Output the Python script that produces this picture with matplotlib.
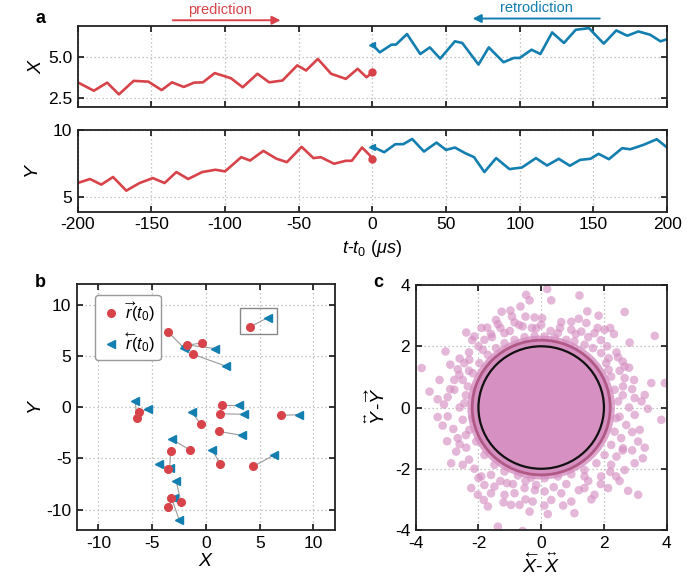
import numpy as np
import matplotlib
matplotlib.use('Agg')
import matplotlib.pyplot as plt
from matplotlib.patches import Circle, Rectangle, FancyArrowPatch
from matplotlib.lines import Line2D

plt.rcParams['font.family'] = ['Liberation Sans', 'DejaVu Sans']
plt.rcParams['mathtext.fontset'] = 'custom'
plt.rcParams['mathtext.rm'] = 'Liberation Sans'
plt.rcParams['mathtext.it'] = 'Liberation Sans:italic'
plt.rcParams['mathtext.bf'] = 'Liberation Sans:bold'
plt.rcParams['axes.unicode_minus'] = False

RED = '#d8434a'
BLUE = '#137eb0'
PINK = '#d690c2'
GRID = '#b4b4b4'

# ---- panel a: X quadrature, prediction (t <= 0) and retrodiction (t >= 0)
t_xp = [-200, -189, -180, -172, -162, -152, -143, -136, -128, -121, -115, -107,
        -96, -88, -78, -70, -61, -51, -45, -37, -28, -18, -10, -4, 0]
x_pred = [3.48, 2.97, 3.46, 2.75, 3.57, 3.52, 3.01, 3.48, 3.20, 3.46, 3.48, 4.04,
          3.73, 3.18, 4.00, 3.48, 3.59, 4.51, 4.20, 4.90, 4.00, 3.69, 4.30, 3.79, 4.08]
t_xr = [0, 5, 13, 16, 23.5, 32.5, 39, 46, 56, 61, 72, 79, 89, 96, 100, 108, 114,
        122, 130, 138, 147, 157, 165.5, 173, 180.5, 188.5, 195.5, 200]
x_retro = [5.77, 5.30, 5.77, 5.77, 6.41, 5.20, 5.60, 4.92, 5.97, 5.87, 4.56, 5.60,
           4.70, 4.96, 4.96, 5.46, 5.20, 6.51, 5.87, 6.67, 6.77, 5.83, 6.63, 6.31,
           6.57, 6.37, 5.97, 6.10]

# ---- panel a: Y quadrature
t_yp = [-200, -191.6, -184, -176, -167, -158, -149, -141, -133, -125, -115.5,
        -106.5, -100, -89, -83, -74, -65, -58, -48, -40, -35, -26, -18, -14, -7, -2, 0]
y_pred = [6.04, 6.34, 5.92, 6.49, 5.47, 6.04, 6.41, 6.04, 6.86, 6.34, 6.86, 7.03,
          6.91, 7.97, 7.72, 8.44, 7.85, 7.60, 8.74, 7.90, 7.97, 7.48, 7.70, 7.70,
          8.69, 8.14, 7.82]
t_yr = [0, 8, 15.6, 21, 27, 35, 43.5, 50, 56, 63, 69, 76, 84, 93, 101.5, 111,
        118.5, 126.5, 134, 141, 148, 153.5, 160.5, 169.5, 175, 184, 193, 200]
y_retro = [8.76, 8.34, 8.94, 8.94, 9.33, 8.39, 9.06, 8.51, 8.69, 8.27, 7.97, 6.86,
           7.90, 7.08, 7.20, 7.90, 7.35, 7.85, 7.33, 7.77, 7.85, 8.22, 7.82, 8.64,
           8.56, 8.89, 9.31, 8.69]

# ---- panel b: predicted (red) and retrodicted (blue) positions at t0
pred_x = [-3.56, -1.78, -0.38, -1.22, 4.09, 1.47, 1.34, 7.00, -0.47, 1.22,
          -1.47, 1.31, 4.41, -3.50, -3.28, -2.34, -3.22, -3.56, -6.19, -6.45]
pred_y = [7.36, 6.06, 6.25, 5.15, 7.82, 0.20, -0.65, -0.81, -1.69, -2.38,
          -4.20, -5.54, -5.80, -6.06, -4.30, -9.25, -8.86, -9.74, -0.46, -1.08]
retro_x = [-2.09, 0.88, -1.95, 1.88, 5.78, 3.09, 3.56, 8.68, -1.34, 3.34,
           -3.16, 0.59, 6.31, -4.38, -3.38, -2.78, -2.50, -3.00, -5.40, -6.57]
retro_y = [5.80, 5.70, 6.00, 3.97, 8.73, 0.20, -0.72, -0.75, -0.49, -2.77,
           -3.16, -4.20, -4.69, -5.54, -5.93, -7.17, -10.98, -8.90, -0.23, 0.55]
box_x = [3.19, 6.60]
box_y = [7.11, 9.66]

# ---- panel c: scatter of the outer cloud (core is saturated)
cloud_x = [0.19, -0.48, -0.37, 1.22, 0.32, -0.66, 1.47, 2.66, -1.26, -0.98, -0.93, 1.83,
           -0.50, -0.21, 0.03, 0.64, 0.96, -1.38, -0.85, -1.72, -2.39, -2.13, -1.57, 2.32,
           1.70, 1.28, 3.62, 2.82, -3.05, -3.81, -3.24, -3.56, -2.98, -3.30, -2.66, -2.29,
           -2.77, 2.15, 2.45, 2.66, 2.96, 3.51, 3.94, 3.30, 2.98, 2.15, -1.86, -1.17, 0.53,
           2.02, 2.61,
           -3.30, -2.98, -3.14, -2.66, -2.39, -2.87, -2.50, -2.13, -1.91, -2.23, -2.02, -1.83,
           -1.49, -1.17, -0.96, -0.69, -0.37, 0.21, 1.06, -1.38, -0.59, -0.27, 0.64, 0.96,
           1.38, 1.70, 2.13, 2.39, 2.77, 3.09, 2.98, 2.66, 3.24, 3.09, 3.30, 3.83, 3.40,
           2.98, 3.14, 2.61, 1.38, 0.32, -1.70, -1.09, -0.16,
           -2.45, -2.61, -2.34, -2.18, -1.97, -1.70, -1.44, -1.17, -0.85, -0.53, -0.21, 0.11,
           0.43, 0.80, 1.06, 1.38, 1.65, 1.91, 2.07, 2.23, 2.34, 2.45, 2.66, -2.07, -2.45,
           -2.77, -1.81, -0.59, -0.16, 0.96, 1.44, -1.44,
           -2.18, -2.29, -2.07, -1.81, -1.49, -1.17, -0.74, -0.32, 0.11, 0.53, 0.96, 1.38,
           1.76, 2.02, 2.23, 2.34, 2.39, 2.71, 2.55, -0.53, 0.11, -0.85, -2.71, -1.81, 1.91,
           2.23]
cloud_y = [3.87, 3.68, 3.50, 3.66, 3.50, 3.30, 3.14, 3.12, 3.13, 3.17, 2.97, 3.00,
           2.97, 2.94, 2.92, 2.79, 2.80, 2.72, 2.78, 2.61, 2.45, 2.32, 2.30, 2.40,
           2.43, 2.48, 2.34, 2.12, 1.83, 1.29, 0.90, 0.52, 0.34, 0.27, 1.25, 1.56,
           0.90, 1.61, 1.64, 0.96, 0.90, 0.80, 0.80, 0.41, 0.31, 1.23, 1.88, 2.43, 2.43,
           2.54, 0.69,
           -0.31, -0.29, -0.59, -1.00, -1.31, -1.82, -1.87, -2.00, -2.25, -2.63, -2.85, -3.02,
           -2.58, -2.85, -3.18, -3.18, -3.40, -3.48, -3.45, -3.89, -4.03, -3.07, -2.80, -3.07,
           -2.63, -2.85, -2.63, -2.25, -2.72, -2.85, -1.82, -2.04, -1.66, -1.11, -1.31, -0.40,
           -0.04, -0.24, -0.73, -1.33, -2.25, -3.02, -3.23, -2.47, -2.53,
           1.45, 1.07, 0.69, 1.12, 1.45, 1.72, 1.94, 2.10, 2.21, 2.30, 2.34, 2.32,
           2.27, 2.21, 2.16, 2.05, 1.94, 1.78, 1.45, 1.01, 0.58, 0.20, 1.34, 0.58, 0.14,
           0.58, 2.21, 2.65, 2.59, 2.54, 2.76, 2.86,
           -0.35, -0.73, -1.11, -1.55, -1.87, -2.09, -2.22, -2.29, -2.31, -2.25, -2.18, -2.04,
           -1.82, -1.55, -1.22, -0.79, -0.35, -0.57, -1.00, -2.63, -2.74, -2.80, -1.44, -2.53,
           -2.25, -1.87]
# denser ring just outside the saturated core
ring_x = [-2.0, -2.3, -2.6, -1.6, -1.9, -2.2, -2.9, -2.5, -2.9, -2.4, -3.1, -2.6, -2.3,
          -1.3, -1.0, -0.7, -0.3, 0.0, 0.3, 0.6,
          1.1, 1.5, 1.9, 2.1, 2.4, 2.6, 2.5, 2.8, 2.9, 2.6, 3.2, 2.8, 1.8, 2.2, 1.2,
          2.5, 2.9, 2.6, 2.9, 2.4, 2.2, 1.9, 1.5, 1.6, 1.2, 0.8, 0.4, 0.7, 2.5,
          -0.2, -0.5, -0.9, -1.3, -1.6, -2.0, -2.3, -2.6, -2.4, -2.8, -2.5, -3.0, -1.6,
          -1.2, -0.5, 0.1]
ring_y = [2.0, 1.8, 1.6, 2.4, 2.6, 2.2, 1.4, 0.9, 0.6, 0.4, 0.1, 0.0, 1.2,
          2.6, 2.5, 2.7, 2.6, 2.7, 2.5, 2.6,
          2.4, 2.3, 2.2, 2.0, 1.8, 1.5, 1.2, 1.3, 0.6, 0.4, 0.2, 0.0, 2.6, 2.6, 2.9,
          -0.3, -0.8, -1.4, -1.4, -1.6, -2.1, -2.5, -2.4, -3.0, -2.7, -2.5, -2.6, -3.2, -2.4,
          -2.7, -2.4, -2.5, -2.4, -2.2, -2.3, -1.7, -1.2, -0.9, -0.7, -0.4, -1.1, -2.8,
          -3.1, -3.0, -3.2]
core_radius = 2.35
outer_radius = 2.2
inner_radius = 2.0


def style(ax):
    ax.grid(True, linestyle=(0, (1, 2.2)), color=GRID, lw=0.9)
    ax.set_axisbelow(True)
    ax.tick_params(direction='in', top=True, right=True, length=4, width=1.1,
                   labelsize=12.5, pad=4)
    for s in ax.spines.values():
        s.set_linewidth(1.3)
        s.set_color('#222222')


fig = plt.figure(figsize=(6.91, 5.79), dpi=100)

# panel a, X
ax1 = fig.add_axes([0.1124, 0.8157, 0.853, 0.1394])
ax1.plot(t_xp, x_pred, color=RED, lw=1.9, solid_joinstyle='round')
ax1.plot(t_xp[-1], x_pred[-1], 'o', color=RED, ms=5)
ax1.plot(t_xr, x_retro, color=BLUE, lw=1.9, solid_joinstyle='round')
ax1.plot(t_xr[0], x_retro[0], '<', color=BLUE, ms=5)
ax1.set_xlim(-200, 200)
ax1.set_ylim(2.0, 6.9)
ax1.set_xticks(range(-200, 201, 50))
ax1.set_yticks([2.5, 5.0])
ax1.set_yticklabels(['2.5', '5.0'])
ax1.set_ylabel('$X$', fontsize=14, labelpad=2)
style(ax1)
ax1.tick_params(labelbottom=False)

# panel a, Y
ax2 = fig.add_axes([0.1124, 0.6344, 0.853, 0.1411])
ax2.plot(t_yp, y_pred, color=RED, lw=1.9, solid_joinstyle='round')
ax2.plot(t_yp[-1], y_pred[-1], 'o', color=RED, ms=5)
ax2.plot(t_yr, y_retro, color=BLUE, lw=1.9, solid_joinstyle='round')
ax2.plot(t_yr[0], y_retro[0], '<', color=BLUE, ms=5)
ax2.set_xlim(-200, 200)
ax2.set_ylim(3.9, 10)
ax2.set_xticks(range(-200, 201, 50))
ax2.set_yticks([5, 10])
ax2.set_ylabel('$Y$', fontsize=14, labelpad=8)
ax2.set_xlabel(r'$t$-$t_0$ ($\mu s$)', fontsize=13, labelpad=4)
style(ax2)

# prediction / retrodiction arrows
fig.text(0.318, 0.982, 'prediction', color=RED, fontsize=10.5, ha='center', va='center')
fig.add_artist(FancyArrowPatch(
    (0.246, 0.965), (0.41, 0.965), transform=fig.transFigure,
    arrowstyle='-|>,head_length=5,head_width=2.5', color=RED, lw=1.4))
fig.text(0.777, 0.986, 'retrodiction', color=BLUE, fontsize=10.5, ha='center', va='center')
fig.add_artist(FancyArrowPatch(
    (0.872, 0.968), (0.68, 0.968), transform=fig.transFigure,
    arrowstyle='-|>,head_length=5,head_width=2.5', color=BLUE, lw=1.4))

# panel b
ax3 = fig.add_axes([0.1114, 0.0846, 0.3734, 0.4249])
for px, py, rx, ry in zip(pred_x, pred_y, retro_x, retro_y):
    ax3.plot([px, rx], [py, ry], color='#9a9a9a', lw=0.8, zorder=2)
ax3.plot(retro_x, retro_y, '<', color=BLUE, ms=5.5, ls='none', zorder=3)
ax3.plot(pred_x, pred_y, 'o', color=RED, ms=5.5, ls='none', zorder=4)
ax3.add_patch(Rectangle((box_x[0], box_y[0]), box_x[1] - box_x[0], box_y[1] - box_y[0],
                        fill=False, edgecolor='#888888', lw=1.0, zorder=5))
ax3.set_xlim(-12, 12)
ax3.set_ylim(-12, 12)
ax3.set_xticks([-10, -5, 0, 5, 10])
ax3.set_yticks([-10, -5, 0, 5, 10])
ax3.set_xlabel('$X$', fontsize=14, labelpad=2)
ax3.set_ylabel('$Y$', fontsize=14, labelpad=1)
style(ax3)
handles = [Line2D([], [], marker='o', color=RED, ls='none', ms=5.5),
           Line2D([], [], marker='<', color=BLUE, ls='none', ms=5.5)]
leg = ax3.legend(handles, [r'$\overrightarrow{r}(t_0)$', r'$\overleftarrow{r}(t_0)$'],
                 loc='upper left', fontsize=12, handletextpad=0.2, handlelength=1.2,
                 borderpad=0.35, labelspacing=0.45, fancybox=True, framealpha=1,
                 bbox_to_anchor=(0.07, 0.955), borderaxespad=0)
leg.get_frame().set_edgecolor('#999999')
leg.get_frame().set_linewidth(1.0)

# panel c
ax4 = fig.add_axes([0.6016, 0.0846, 0.3632, 0.4231])
ax4.add_patch(Circle((0, 0), core_radius, color=PINK, alpha=0.8, lw=0, zorder=2))
ax4.add_patch(Circle((0, 0), outer_radius, color=PINK, lw=0, zorder=2))
ax4.scatter(cloud_x + ring_x, cloud_y + ring_y, s=38, color=PINK, alpha=0.65,
            edgecolors='none', zorder=2)
ax4.add_patch(Circle((0, 0), outer_radius, fill=False, edgecolor='#b05886', lw=2.0, zorder=3))
ax4.add_patch(Circle((0, 0), inner_radius, fill=False, edgecolor='#111111', lw=1.6, zorder=4))
ax4.set_xlim(-4, 4)
ax4.set_ylim(-4, 4)
ax4.set_xticks([-4, -2, 0, 2, 4])
ax4.set_yticks([-4, -2, 0, 2, 4])
ax4.set_xlabel(r'$\overleftarrow{X}$-$\overset{\leftrightarrow}{X}$', fontsize=14, labelpad=1)
ax4.set_ylabel(r'$\overset{\leftrightarrow}{Y}$-$\overrightarrow{Y}$', fontsize=14, labelpad=4)
style(ax4)

# panel letters
fig.text(0.058, 0.968, 'a', fontsize=13, fontweight='bold', ha='center', va='center')
fig.text(0.058, 0.512, 'b', fontsize=13, fontweight='bold', ha='center', va='center')
fig.text(0.547, 0.512, 'c', fontsize=13, fontweight='bold', ha='center', va='center')

fig.savefig('out.png', dpi=100)
